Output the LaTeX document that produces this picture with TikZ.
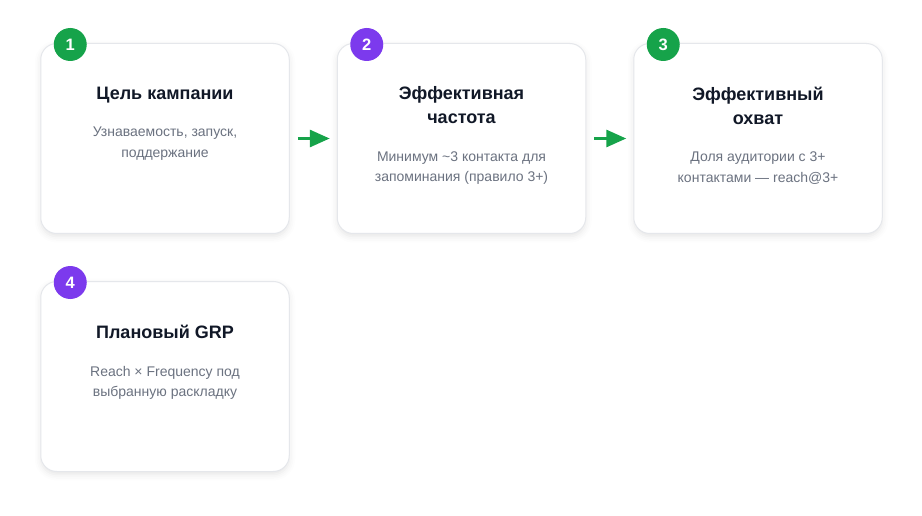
\documentclass[tikz,border=0pt]{standalone}
\usepackage{fontspec}
\setmainfont{Liberation Sans}
\usetikzlibrary{positioning,arrows.meta,shadows.blur}

\definecolor{cardline}{HTML}{E5E7EB}
\definecolor{titlecol}{HTML}{111827}
\definecolor{desccol}{HTML}{6B7280}
\definecolor{stepgreen}{HTML}{16A34A}
\definecolor{steppurple}{HTML}{7C3AED}

\begin{document}
\begin{tikzpicture}[
    x=1pt, y=-1pt,
    node distance=47pt,
    card/.style={draw=cardline, line width=1pt, fill=white, rounded corners=16pt,
        minimum width=248.5pt, minimum height=190pt, inner sep=0pt,
        blur shadow={shadow xshift=0pt, shadow yshift=-3pt, shadow blur radius=6pt, shadow opacity=10}},
    ttl/.style={font=\bfseries\fontsize{18}{24}\selectfont, text=titlecol, align=center, inner sep=0pt, text depth=0pt},
    dsc/.style={font=\fontsize{14}{20.5}\selectfont, text=desccol, align=center, inner sep=0pt},
    badge/.style={circle, minimum size=33pt, inner sep=0pt, text=white, font=\bfseries\fontsize{16.5}{18}\selectfont},
    flow/.style={draw=stepgreen, line width=3pt, -{Triangle[length=20pt, width=17pt]}, shorten <=8pt, shorten >=7pt}
]
\useasboundingbox (0,0) rectangle (922,516);

% Cards
\node[card] (c1) at (165,138.5) {};
\node[card, right=of c1] (c2) {};
\node[card, right=of c2] (c3) {};
\node[card, below=of c1] (c4) {};

% Step badges
\node[badge, fill=stepgreen] (b1) at ([xshift=30pt, yshift=-1.5pt]c1.north west) {1};
\node[badge, fill=steppurple] (b2) at ([xshift=30pt, yshift=-1.5pt]c2.north west) {2};
\node[badge, fill=stepgreen] (b3) at ([xshift=30pt, yshift=-1.5pt]c3.north west) {3};
\node[badge, fill=steppurple] (b4) at ([xshift=30pt, yshift=-1.5pt]c4.north west) {4};

% Titles
\node[ttl, below=43.5pt of c1.north] (t1) {Цель кампании};
\node[ttl, below=43.5pt of c2.north] (t2) {Эффективная\\частота};
\node[ttl, below=43.5pt of c3.north] (t3) {Эффективный\\охват};
\node[ttl, below=43.5pt of c4.north] (t4) {Плановый GRP};

% Descriptions
\node[dsc, below=27.5pt of t1] (d1) {Узнаваемость, запуск,\\поддержание};
\node[dsc, below=27.5pt of t2] (d2) {Минимум \textasciitilde3 контакта для\\запоминания (правило 3+)};
\node[dsc, below=27.5pt of t3] (d3) {Доля аудитории с 3+\\контактами — reach@3+};
\node[dsc, below=27.5pt of t4] (d4) {Reach × Frequency под\\выбранную раскладку};

% Arrows
\draw[flow] (c1) -- (c2);
\draw[flow] (c2) -- (c3);

\end{tikzpicture}
\end{document}
